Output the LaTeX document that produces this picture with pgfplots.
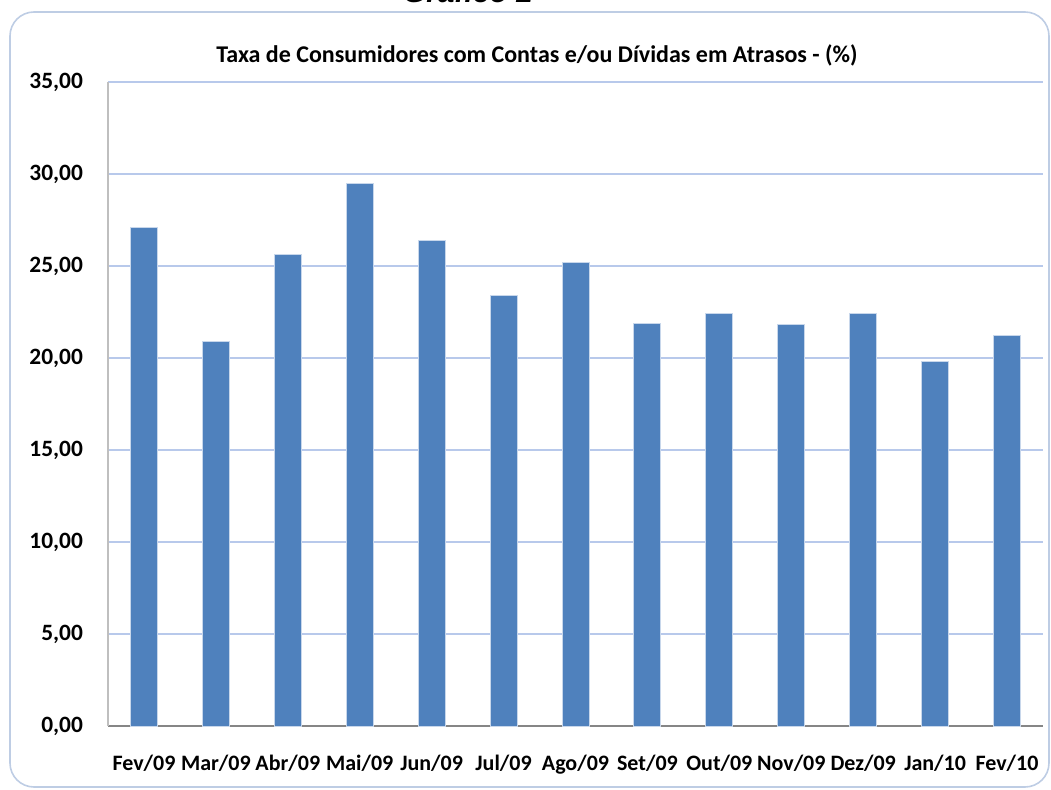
\documentclass[border=0pt]{standalone}
\usepackage{pgfplots}
\pgfplotsset{compat=1.18}
\usepackage{fontspec}
\setmainfont{Carlito}
\newfontfamily\arialfont{Liberation Sans}
\definecolor{barblue}{RGB}{79,129,189}
\definecolor{baredge}{RGB}{200,215,235}
\definecolor{gridblue}{RGB}{184,201,235}
\definecolor{framecol}{RGB}{190,205,228}
\definecolor{yaxgray}{RGB}{191,191,191}
\definecolor{xaxgray}{RGB}{134,134,134}
\begin{document}
\begin{tikzpicture}
\useasboundingbox (0,0) rectangle (525.5pt,394.5pt);
\draw[framecol, line width=0.8pt, rounded corners=12pt] (5pt,1pt) rectangle (524.5pt,388.5pt);
\node[anchor=base, font=\arialfont\bfseries\itshape\fontsize{15}{18}\selectfont] at (234pt,393pt) {Gráfico 2};
\node[font=\bfseries\fontsize{12}{14}\selectfont] at (268.5pt,367pt) {Taxa de Consumidores com Contas e/ou Dívidas em Atrasos - (\%)};
\begin{axis}[
    at={(54pt,31.5pt)}, anchor=south west,
    scale only axis,
    width=467.5pt, height=322pt,
    ymin=0, ymax=35, ytick={0,5,...,35},
    xmin=-0.5, xmax=12.5,
    xtick={0,...,12},
    xticklabels={Fev/09, Mar/09, Abr/09, Mai/09, Jun/09, Jul/09, Ago/09, Set/09, Out/09, Nov/09, Dez/09, Jan/10, Fev/10},
    axis x line*=bottom, axis y line*=left,
    x axis line style={xaxgray, line width=1.3pt, -},
    y axis line style={yaxgray, line width=1pt, -},
    major tick length=0pt,
    ymajorgrids=true,
    major grid style={gridblue, line width=1pt},
    xticklabel style={yshift=-11pt, font=\bfseries\fontsize{11}{13}\selectfont},
    yticklabel style={xshift=-9pt, font=\bfseries\fontsize{11.7}{13}\selectfont, /pgf/number format/.cd, fixed, fixed zerofill, precision=2, use comma, assume math mode=true},
    ybar, bar width=13.5pt,
]
\addplot[fill=barblue, draw=baredge, line width=0.5pt] coordinates {
    (0,27.1) (1,20.9) (2,25.6) (3,29.5) (4,26.4) (5,23.4) (6,25.2)
    (7,21.9) (8,22.4) (9,21.8) (10,22.4) (11,19.8) (12,21.2)
};
\end{axis}
\end{tikzpicture}
\end{document}
